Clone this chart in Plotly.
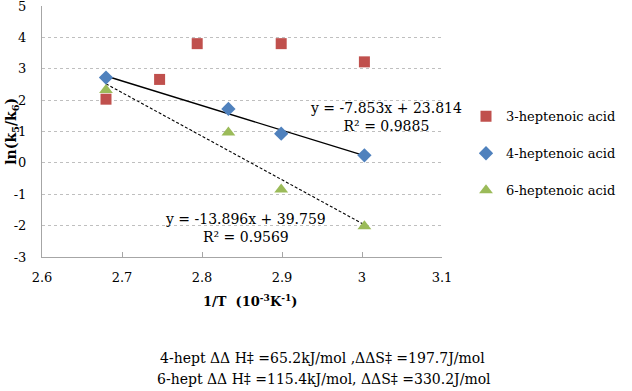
import numpy as np
import plotly.graph_objects as go

# Data
x3 = [2.680, 2.747, 2.794, 2.899, 3.003]
y3 = [2.03, 2.66, 3.80, 3.80, 3.22]
x4 = [2.680, 2.833, 2.899, 3.003]
y4 = [2.72, 1.72, 0.93, 0.24]
x6 = [2.680, 2.833, 2.899, 3.003]
y6 = [2.32, 0.97, -0.85, -2.02]

series_names = ["3-heptenoic acid", "4-heptenoic acid", "6-heptenoic acid"]
fit4 = (-7.853, 23.814, 0.9885)
fit6 = (-13.896, 39.759, 0.9569)

xtick_vals = [2.6, 2.7, 2.8, 2.9, 3.0, 3.1]
xtick_text = ["2.6", "2.7", "2.8", "2.9", "3", "3.1"]
ytick_vals = [-3, -2, -1, 0, 1, 2, 3, 4, 5]
ytick_text = ["-3", "-2", "-1", "0", "1", "2", "3", "4", "5"]

FONT = "DejaVu Serif"
RED, BLUE, GREEN = "#C0504D", "#4F81BD", "#9BBB59"

fig = go.Figure()

# trendlines
for xs, (m, b, r2), dash in [(x4, fit4, "solid"), (x6, fit6, "3px,2px")]:
    xl = np.array([min(xs), max(xs)])
    fig.add_trace(go.Scatter(x=xl, y=m * xl + b, mode="lines",
                             line=dict(color="black", width=1.4 if dash == "solid" else 1.1, dash=dash),
                             showlegend=False, hoverinfo="skip"))

fig.add_trace(go.Scatter(x=x3, y=y3, mode="markers", name=series_names[0], legendgroup="a",
                         marker=dict(symbol="square", size=11, color=RED)))
fig.add_trace(go.Scatter(x=x4, y=y4, mode="markers", name=series_names[1], legendgroup="b",
                         marker=dict(symbol="diamond", size=11, color=BLUE)))
fig.add_trace(go.Scatter(x=x6, y=y6, mode="markers", name=series_names[2], legendgroup="c",
                         marker=dict(symbol="triangle-up", size=12, color=GREEN)))

def eq(m, b, r2):
    return f"y = -{abs(m):.3f}x + {b:.3f}<br>R² = {r2:.4f}"

fig.add_annotation(x=3.030, y=1.45, xref="x", yref="y", text=eq(*fit4), showarrow=False,
                   xanchor="center", yanchor="middle",
                   font=dict(family=FONT, size=14, color="black"), align="center")
fig.add_annotation(x=2.854, y=-2.06, xref="x", yref="y", text=eq(*fit6), showarrow=False,
                   xanchor="center", yanchor="middle",
                   font=dict(family=FONT, size=14, color="black"), align="center")

fig.add_annotation(x=-0.077, y=0.50, xref="paper", yref="paper", textangle=-90,
                   xanchor="center", yanchor="middle",
                   text="<b>ln(k<sub>5</sub>/k<sub>6</sub>)</b>", showarrow=False,
                   font=dict(family=FONT, size=14, color="black"))
fig.add_annotation(x=0.52, y=-0.175, xref="paper", yref="paper",
                   xanchor="center", yanchor="middle",
                   text="<b>1/T  (10<sup>-3</sup>K<sup>-1</sup>)</b>", showarrow=False,
                   font=dict(family=FONT, size=13, color="black"))
fig.add_annotation(x=0.702, y=-0.402, xref="paper", yref="paper",
                   xanchor="center", yanchor="middle",
                   text="4-hept ΔΔ H‡ =65.2kJ/mol ,ΔΔS‡ =197.7J/mol", showarrow=False,
                   font=dict(family=FONT, size=14, color="black"))
fig.add_annotation(x=0.705, y=-0.486, xref="paper", yref="paper",
                   xanchor="center", yanchor="middle",
                   text="6-hept ΔΔ H‡ =115.4kJ/mol, ΔΔS‡ =330.2J/mol", showarrow=False,
                   font=dict(family=FONT, size=14, color="black"))

fig.update_layout(
    width=632, height=391,
    margin=dict(l=42, r=190, t=6, b=134, autoexpand=False),
    paper_bgcolor="white", plot_bgcolor="white",
    font=dict(family=FONT, size=13, color="black"),
    legend=dict(x=1.06, y=0.62, xanchor="left", yanchor="top",
                traceorder="grouped", tracegroupgap=17,
                font=dict(family=FONT, size=13), bgcolor="rgba(0,0,0,0)"),
    xaxis=dict(range=[2.6, 3.1], tickvals=xtick_vals, ticktext=xtick_text,
               showgrid=False, zeroline=False, showline=True, linecolor="#A6A6A6", linewidth=1,
               ticks="inside", ticklen=5, tickcolor="#A6A6A6", ticklabelstandoff=8,
               automargin=False),
    yaxis=dict(range=[-3, 5], tickvals=ytick_vals, ticktext=ytick_text,
               showgrid=True, gridcolor="#BFBFBF", griddash="dot", gridwidth=1,
               zeroline=False, showline=True, linecolor="#A6A6A6", linewidth=1, ticks="",
               ticklabelstandoff=12, ticklabeloverflow="allow", automargin=False),
)

fig.write_html("out.html", config={"displayModeBar": False},
               post_script="document.body.style.margin='0';")
